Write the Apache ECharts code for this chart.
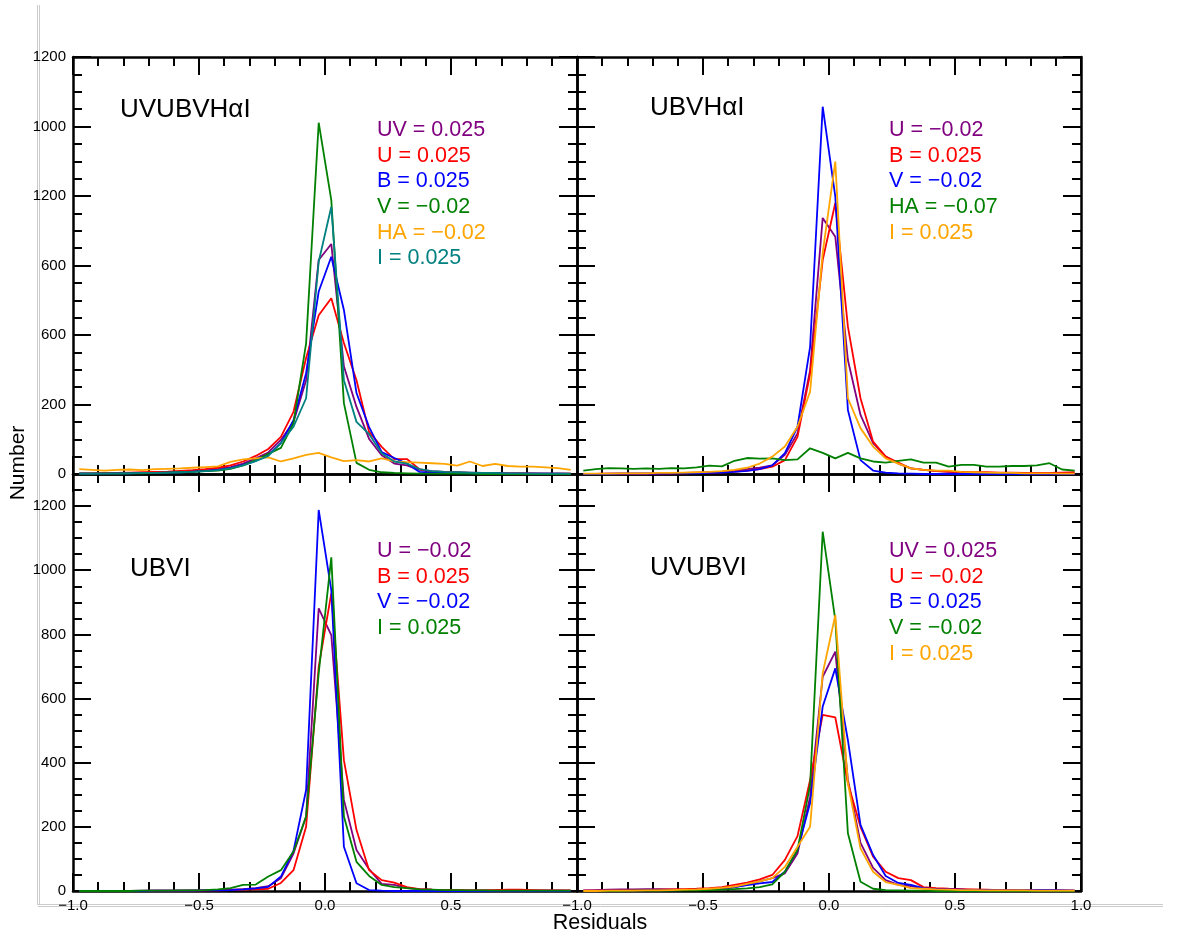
<!DOCTYPE html>
<html>
<head>
<meta charset="utf-8">
<script src="https://cdn.jsdelivr.net/npm/echarts@6/dist/echarts.min.js"></script>
<style>
html, body { margin: 0; padding: 0; background: #fff; }
#main { width: 1177px; height: 938px; }
</style>
</head>
<body>
<div id="main"></div>
<script>
// bin centres of the residual histograms
const residuals = [-0.975, -0.925, -0.875, -0.825, -0.775, -0.725, -0.675, -0.625, -0.575, -0.525,
  -0.475, -0.425, -0.375, -0.325, -0.275, -0.225, -0.175, -0.125, -0.075, -0.025,
  0.025, 0.075, 0.125, 0.175, 0.225, 0.275, 0.325, 0.375, 0.425, 0.475,
  0.525, 0.575, 0.625, 0.675, 0.725, 0.775, 0.825, 0.875, 0.925, 0.975];

// top left: UVUBVHaI
const tlUV = [1,1,2,2,3,3,4,5,6,8, 10,14,20,30,45,62,98,150,270,616, 662,310,193,101,54,30,25,12,8,6, 5,4,3,3,2,2,2,1,1,1];
const tlU  = [2,2,3,3,4,5,6,7,9,11, 14,18,25,36,52,72,107,179,334,457, 506,377,270,121,78,43,43,14,6,5, 4,3,3,2,2,2,1,1,1,1];
const tlB  = [1,1,1,2,2,3,3,4,5,7, 9,12,17,26,38,55,89,155,290,525, 625,472,233,135,63,46,30,6,4,3, 3,2,2,2,1,1,1,1,1,0];
const tlV  = [1,1,1,1,2,2,3,4,5,6, 8,10,15,25,40,58,75,146,376,1011, 788,204,32,12,5,3,2,1,1,1, 1,1,0,0,0,0,0,0,0,0];
const tlHA = [14,12,10,12,13,11,14,15,16,18, 20,22,35,42,45,48,36,45,55,61, 48,37,40,36,45,36,34,33,31,29, 24,36,23,29,23,21,21,19,17,12];
const tlI  = [1,1,2,2,2,3,3,4,5,6, 8,11,16,25,37,52,89,136,218,611, 769,270,150,115,60,36,30,14,8,6, 5,4,3,3,2,2,1,1,1,1];

// top right: UBVHaI
const trU  = [0,0,1,1,1,1,2,2,3,4, 5,7,10,14,18,25,55,117,299,737, 683,328,170,89,50,30,16,12,8,6, 5,4,3,2,2,2,1,1,1,1];
const trB  = [0,0,1,1,1,1,1,2,2,3, 4,5,7,10,14,21,40,107,288,616, 780,424,218,93,50,33,16,12,9,7, 6,5,5,4,4,3,3,3,4,5];
const trV  = [0,0,0,1,1,1,1,2,2,2, 3,4,6,9,14,25,60,136,366,1057, 798,184,40,10,4,2,1,0,0,0, 0,0,0,0,0,0,0,0,0,0];
const trHA = [10,14,17,16,15,16,15,17,16,19, 24,22,38,46,44,45,40,42,74,61, 45,61,45,36,33,38,42,33,33,21, 26,26,21,21,23,23,25,31,13,10];
const trI  = [1,1,1,2,2,2,3,3,4,5, 6,8,12,18,30,50,79,136,237,636, 899,218,132,79,45,30,16,12,10,10, 6,5,4,3,3,2,2,2,1,1];

// bottom left: UBVI
const blU = [0,0,0,0,0,1,1,1,1,2, 2,3,4,6,9,15,40,117,232,881, 798,284,128,68,22,19,9,6,4,3, 3,2,2,2,3,2,2,2,2,1];
const blB = [0,0,0,0,0,0,1,1,1,1, 2,2,3,4,5,7,25,65,200,699, 928,408,190,65,34,26,12,6,4,3, 3,2,2,3,4,4,3,2,2,2];
const blV = [0,0,0,0,0,0,1,1,1,1, 2,2,3,5,8,13,45,125,315,1188, 938,138,24,3,1,0,0,0,0,0, 0,0,0,0,0,0,0,0,0,0];
const blI = [0,0,0,0,0,1,1,1,2,2, 3,5,9,19,20,45,65,123,232,679, 1040,232,91,47,19,12,9,5,4,3, 3,2,2,1,1,1,1,1,1,1];

// bottom right: UVUBVI
const brUV = [2,3,4,5,5,6,6,5,4,4, 5,7,12,20,30,40,55,117,294,668, 746,347,150,72,34,19,15,8,6,5, 4,3,3,2,2,2,3,3,2,1];
const brU  = [1,1,2,2,3,3,4,5,6,7, 9,12,19,26,36,50,97,171,346,549, 541,336,200,107,60,40,34,12,9,7, 6,5,4,3,3,2,2,2,1,1];
const brB  = [0,0,1,1,1,2,2,2,3,4, 5,8,12,18,24,28,60,128,274,575, 694,470,206,112,47,25,19,9,6,5, 4,3,3,2,2,2,3,3,2,1];
const brV  = [0,0,0,0,1,1,1,1,2,2, 3,4,6,8,12,21,60,128,330,1120, 845,180,29,7,3,2,1,1,0,0, 0,0,0,0,0,0,0,0,0,0];
const brI  = [0,0,1,1,1,2,2,3,4,5, 7,10,14,22,30,40,75,138,200,679, 860,336,133,60,28,19,9,7,5,4, 3,3,2,2,2,2,1,1,1,1];

// tick labels as printed in the figure
const topTickLabels = ['0', '200', '600', '600', '1200', '1000', '1200'];
const bottomTickLabels = ['0', '200', '400', '600', '800', '1000', '1200'];
const xTickLabels = ['\u22121.0', '\u22120.5', '0.0', '0.5', '1.0'];

const PURPLE = '#800080', RED = '#ff0000', BLUE = '#0000ff', GREEN = '#008000', ORANGE = '#ffa500', TEAL = '#008080';
const FONT = '"Liberation Sans", Arial, Helvetica, sans-serif';

const panels = [
  { left: 73, top: 57, ymax: 1200, labels: topTickLabels, showY: true, showX: false, hideMaxX: false,
    title: 'UVUBVH\u03b1I', tx: 120, ty: 110, lx: 377, ly: 130,
    series: [['UV = 0.025', PURPLE, tlUV], ['U = 0.025', RED, tlU], ['B = 0.025', BLUE, tlB],
             ['V = \u22120.02', GREEN, tlV], ['HA = \u22120.02', ORANGE, tlHA], ['I = 0.025', TEAL, tlI]] },
  { left: 577, top: 57, ymax: 1200, labels: topTickLabels, showY: false, showX: false, hideMaxX: false,
    title: 'UBVH\u03b1I', tx: 650, ty: 108, lx: 889, ly: 130,
    series: [['U = \u22120.02', PURPLE, trU], ['B = 0.025', RED, trB], ['V = \u22120.02', BLUE, trV],
             ['HA = \u22120.07', GREEN, trHA], ['I = 0.025', ORANGE, trI]] },
  { left: 73, top: 474, ymax: 1300, labels: bottomTickLabels, showY: true, showX: true, hideMaxX: true,
    title: 'UBVI', tx: 130, ty: 569, lx: 377, ly: 551,
    series: [['U = \u22120.02', PURPLE, blU], ['B = 0.025', RED, blB], ['V = \u22120.02', BLUE, blV],
             ['I = 0.025', GREEN, blI]] },
  { left: 577, top: 474, ymax: 1300, labels: bottomTickLabels, showY: false, showX: true, hideMaxX: false,
    title: 'UVUBVI', tx: 650, ty: 568, lx: 889, ly: 551,
    series: [['UV = 0.025', PURPLE, brUV], ['U = \u22120.02', RED, brU], ['B = 0.025', BLUE, brB],
             ['V = \u22120.02', GREEN, brV], ['I = 0.025', ORANGE, brI]] }
];

const tickStyle = { color: '#000', width: 2 };
const axisLine = { show: true, onZero: false, lineStyle: { color: '#000', width: 2.5 } };
const noLine = { show: false, onZero: false };

const grid = [], xAxis = [], yAxis = [], series = [], graphic = [];

panels.forEach(function (p, i) {
  grid.push({ left: p.left, top: p.top, width: 504, height: 417 });
  const xBase = xAxis.length;
  ['bottom', 'top'].forEach(function (pos) {
    // major ticks every 0.5
    xAxis.push({
      type: 'value', gridIndex: i, position: pos, min: -1, max: 1, interval: 0.5,
      axisLine: axisLine,
      axisTick: { show: true, inside: true, length: 18, lineStyle: tickStyle },
      splitLine: { show: false },
      axisLabel: {
        show: pos === 'bottom' && p.showX, margin: 7, color: '#000', fontSize: 15, fontFamily: FONT,
        showMaxLabel: !p.hideMaxX,
        formatter: function (v) { return xTickLabels[Math.round((v + 1) / 0.5)]; }
      }
    });
    // minor ticks every 0.1
    xAxis.push({
      type: 'value', gridIndex: i, position: pos, min: -1, max: 1, interval: 0.1,
      axisLine: noLine,
      axisTick: { show: true, inside: true, length: 9, lineStyle: tickStyle },
      splitLine: { show: false },
      axisLabel: { show: false }
    });
  });
  const yBase = yAxis.length;
  ['left', 'right'].forEach(function (pos) {
    // major ticks every 200 (labels on the outer left side)
    yAxis.push({
      type: 'value', gridIndex: i, position: pos, min: 0, max: p.ymax, interval: 200,
      axisLine: axisLine,
      axisTick: { show: true, inside: true, length: 18, lineStyle: tickStyle },
      splitLine: { show: false },
      axisLabel: {
        show: pos === 'left' && p.showY, margin: 7, color: '#000', fontSize: 15, fontFamily: FONT,
        formatter: function (v) { const k = Math.round(v / 200); return (v % 200 === 0 && p.labels[k]) ? p.labels[k] : ''; }
      }
    });
    // minor ticks every 50
    yAxis.push({
      type: 'value', gridIndex: i, position: pos, min: 0, max: p.ymax, interval: 50,
      axisLine: noLine,
      axisTick: { show: true, inside: true, length: 9, lineStyle: tickStyle },
      splitLine: { show: false },
      axisLabel: { show: false }
    });
  });
  p.series.forEach(function (s, j) {
    series.push({
      type: 'line', name: s[0], xAxisIndex: xBase, yAxisIndex: yBase,
      data: residuals.map(function (x, k) { return [x, s[2][k]]; }),
      showSymbol: false, symbol: 'none', animation: false,
      lineStyle: { color: s[1], width: 1.8 }, itemStyle: { color: s[1] }
    });
    graphic.push({
      type: 'text', x: p.lx, y: p.ly + j * 25.7,
      style: { text: s[0], fill: s[1], font: '21.5px ' + FONT, verticalAlign: 'middle' }
    });
  });
  graphic.push({
    type: 'text', x: p.tx, y: p.ty,
    style: { text: p.title, fill: '#000', font: '26px ' + FONT, verticalAlign: 'middle' }
  });
});

// light grey frame remnants
[[37.5, 5, 37.5, 905], [39.5, 5, 39.5, 905], [38, 904.5, 1163, 904.5], [38, 906.5, 1163, 906.5]].forEach(function (l) {
  graphic.push({ type: 'line', z: -1, shape: { x1: l[0], y1: l[1], x2: l[2], y2: l[3] }, style: { stroke: '#cccccc', lineWidth: 1 } });
});

graphic.push({
  type: 'text', x: 18, y: 463, rotation: Math.PI / 2,
  style: { text: 'Number', fill: '#000', font: '21px ' + FONT, align: 'center', verticalAlign: 'middle' }
});
graphic.push({
  type: 'text', x: 600, y: 923,
  style: { text: 'Residuals', fill: '#000', font: '21.5px ' + FONT, align: 'center', verticalAlign: 'middle' }
});

const myChart = echarts.init(document.getElementById('main'));
myChart.setOption({
  animation: false,
  backgroundColor: '#fff',
  grid: grid,
  xAxis: xAxis,
  yAxis: yAxis,
  series: series,
  graphic: graphic
});
</script>
</body>
</html>
